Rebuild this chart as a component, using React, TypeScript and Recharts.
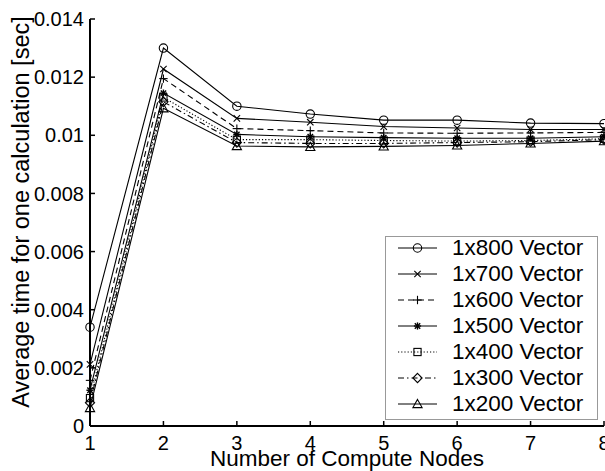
import React from 'react';
import { LineChart, Line, XAxis, YAxis, Legend, Label } from 'recharts';

const nodes = [1, 2, 3, 4, 5, 6, 7, 8];
const v800 = [0.0034, 0.0130, 0.0110, 0.01073, 0.01052, 0.01052, 0.01042, 0.0104];
const v700 = [0.00212, 0.01228, 0.01058, 0.01045, 0.0103, 0.01025, 0.0102, 0.0102];
const v600 = [0.00157, 0.01195, 0.01023, 0.01016, 0.01008, 0.01007, 0.01008, 0.0101];
const v500 = [0.00123, 0.01145, 0.01003, 0.00995, 0.00992, 0.0099, 0.0099, 0.00995];
const v400 = [0.00096, 0.0113, 0.00985, 0.00985, 0.00982, 0.0098, 0.00982, 0.00988];
const v300 = [0.0008, 0.01115, 0.00975, 0.00972, 0.00972, 0.00975, 0.00978, 0.00985];
const v200 = [0.00062, 0.01093, 0.00963, 0.0096, 0.00962, 0.00965, 0.00972, 0.0098];

const yTicks = [0, 0.002, 0.004, 0.006, 0.008, 0.01, 0.012, 0.014];
const xTicks = [1, 2, 3, 4, 5, 6, 7, 8];

const FONT = '"Liberation Sans", Arial, Helvetica, sans-serif';

type MarkerType = 'circle' | 'x' | 'plus' | 'star' | 'square' | 'diamond' | 'triangle';

const series: { key: string; name: string; values: number[]; dash?: string; marker: MarkerType }[] = [
  { key: 's800', name: '1x800 Vector', values: v800, marker: 'circle' },
  { key: 's700', name: '1x700 Vector', values: v700, marker: 'x' },
  { key: 's600', name: '1x600 Vector', values: v600, dash: '6 4', marker: 'plus' },
  { key: 's500', name: '1x500 Vector', values: v500, marker: 'star' },
  { key: 's400', name: '1x400 Vector', values: v400, dash: '1.2 2', marker: 'square' },
  { key: 's300', name: '1x300 Vector', values: v300, dash: '6 3 1.5 3', marker: 'diamond' },
  { key: 's200', name: '1x200 Vector', values: v200, marker: 'triangle' },
];

const data = nodes.map((n, i) => {
  const row: Record<string, number> = { nodes: n };
  series.forEach((s) => {
    row[s.key] = s.values[i];
  });
  return row;
});

function Marker({ type, cx, cy }: { type: MarkerType; cx: number; cy: number }) {
  const st = { stroke: '#000', strokeWidth: 1.1, fill: 'none' } as const;
  switch (type) {
    case 'circle':
      return <circle cx={cx} cy={cy} r={4.2} {...st} />;
    case 'x':
      return (
        <g {...st}>
          <line x1={cx - 3.2} y1={cy - 3.2} x2={cx + 3.2} y2={cy + 3.2} />
          <line x1={cx - 3.2} y1={cy + 3.2} x2={cx + 3.2} y2={cy - 3.2} />
        </g>
      );
    case 'plus':
      return (
        <g {...st}>
          <line x1={cx - 4.2} y1={cy} x2={cx + 4.2} y2={cy} />
          <line x1={cx} y1={cy - 4.2} x2={cx} y2={cy + 4.2} />
        </g>
      );
    case 'star':
      return (
        <g {...st} strokeWidth={1.4}>
          <line x1={cx - 3.6} y1={cy} x2={cx + 3.6} y2={cy} />
          <line x1={cx} y1={cy - 3.6} x2={cx} y2={cy + 3.6} />
          <line x1={cx - 2.7} y1={cy - 2.7} x2={cx + 2.7} y2={cy + 2.7} />
          <line x1={cx - 2.7} y1={cy + 2.7} x2={cx + 2.7} y2={cy - 2.7} />
        </g>
      );
    case 'square':
      return <rect x={cx - 3.6} y={cy - 3.6} width={7.2} height={7.2} {...st} />;
    case 'diamond':
      return (
        <polygon
          points={`${cx},${cy - 4.6} ${cx + 4.6},${cy} ${cx},${cy + 4.6} ${cx - 4.6},${cy}`}
          {...st}
        />
      );
    case 'triangle':
    default:
      return (
        <polygon
          points={`${cx},${cy - 4.6} ${cx + 4.6},${cy + 3.6} ${cx - 4.6},${cy + 3.6}`}
          {...st}
        />
      );
  }
}

const fmtY = (v: number) => (v === 0 ? '0' : String(+v.toFixed(3)));

const YTick = (props: any) => {
  const { x, y, payload } = props;
  const ax = x + 6;
  return (
    <g>
      <line x1={ax} y1={y} x2={ax + 5} y2={y} stroke="#000" strokeWidth={1.5} />
      <text x={x} y={y} dy="0.355em" textAnchor="end" fontSize={20} fontFamily={FONT} fill="#000">
        {fmtY(payload.value)}
      </text>
    </g>
  );
};

const XTick = (props: any) => {
  const { x, y, payload } = props;
  const ay = y - 10;
  return (
    <g>
      <line x1={x} y1={ay} x2={x} y2={ay - 5} stroke="#000" strokeWidth={1.5} />
      <text x={x} y={y} dy="0.71em" textAnchor="middle" fontSize={20} fontFamily={FONT} fill="#000">
        {payload.value}
      </text>
    </g>
  );
};

const LegendBox = (props: any) => {
  const payload: any[] = (props.payload || []).slice();
  const order = (e: any) => {
    const idx = series.findIndex((q) => q.key === e.dataKey);
    return idx < 0 ? 99 : idx;
  };
  payload.sort((a, b) => order(a) - order(b));
  return (
    <div
      style={{
        position: 'relative',
        width: 213,
        height: 184,
        border: '1px solid #999',
        boxSizing: 'border-box',
        background: '#fff',
        fontFamily: FONT,
      }}
    >
      {payload.map((entry, i) => {
        const s = series.find((q) => q.key === entry.dataKey) || series[i];
        return (
          <div
            key={s.key}
            style={{
              position: 'absolute',
              left: 0,
              top: 12 + i * 26 - 13 - 1,
              height: 26,
              width: 211,
              display: 'flex',
              alignItems: 'center',
            }}
          >
            <svg width={62} height={26} style={{ display: 'block', flex: 'none' }}>
              <line x1={12} y1={13} x2={51} y2={13} stroke="#000" strokeWidth={1} strokeDasharray={s.dash} />
              <Marker type={s.marker} cx={31.5} cy={13} />
            </svg>
            <span style={{ marginLeft: 4, fontSize: 22.5, lineHeight: '26px', color: '#000', whiteSpace: 'nowrap' }}>
              {entry.value}
            </span>
          </div>
        );
      })}
    </div>
  );
};

const YTitle = () => {
  const cx = 29;
  const cy = 212;
  return (
    <text
      x={cx}
      y={cy}
      transform={`rotate(-90, ${cx}, ${cy})`}
      textAnchor="middle"
      fontSize={23.5}
      fontFamily={FONT}
      fill="#000"
    >
      Average time for one calculation [sec]
    </text>
  );
};

export default function App() {
  return (
    <div style={{ position: 'absolute', left: 0, top: 0, width: 605, height: 471, background: '#fff' }}>
      <LineChart width={605} height={471} data={data} margin={{ top: 19, right: 1, left: 0, bottom: 0 }}>
        <XAxis
          dataKey="nodes"
          type="number"
          domain={[1, 8]}
          ticks={xTicks}
          interval={0}
          tickSize={0}
          tickMargin={10}
          height={45}
          axisLine={{ stroke: '#000', strokeWidth: 2 }}
          tick={<XTick />}
        >
          <Label
            value="Number of Compute Nodes"
            position="insideBottom"
            offset={5}
            style={{ fontSize: 22.5, fontFamily: FONT, fill: '#000' }}
          />
        </XAxis>
        <YAxis
          type="number"
          domain={[0, 0.014]}
          ticks={yTicks}
          interval={0}
          width={90}
          tickSize={0}
          tickMargin={6}
          axisLine={{ stroke: '#000', strokeWidth: 2 }}
          tick={<YTick />}
        >
          <Label content={<YTitle />} />
        </YAxis>
        <Legend
          layout="vertical"
          align="center"
          verticalAlign="middle"
          wrapperStyle={{ position: 'absolute', left: 385, top: 236, width: 213, height: 184 }}
          content={<LegendBox />}
        />
        {series.map((s) => (
          <Line
            key={s.key}
            dataKey={s.key}
            name={s.name}
            type="linear"
            stroke="#000"
            strokeWidth={1.1}
            strokeDasharray={s.dash}
            isAnimationActive={false}
            dot={(p: any) => <Marker key={`${s.key}-${p.index}`} type={s.marker} cx={p.cx} cy={p.cy} />}
            activeDot={false}
          />
        ))}
      </LineChart>
    </div>
  );
}
